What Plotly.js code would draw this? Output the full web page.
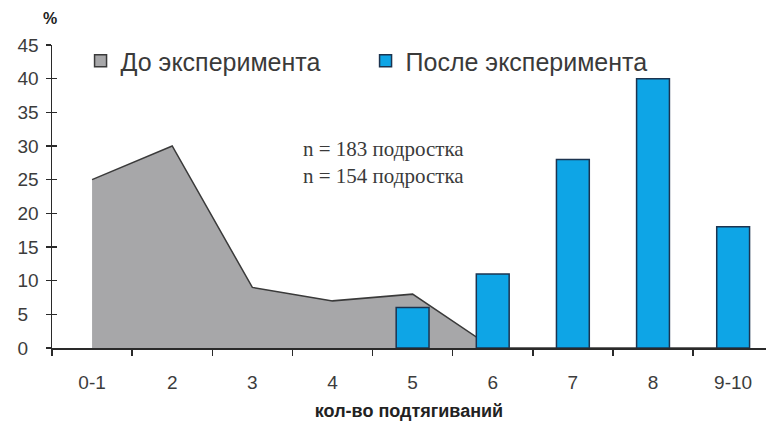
<!DOCTYPE html>
<html><head><meta charset="utf-8">
<script src="https://cdn.plot.ly/plotly-3.0.1.min.js"></script>
<style>html,body{margin:0;padding:0;background:#fff}#chart{width:766px;height:428px}</style>
</head><body><div id="chart"></div>
<script>
const categories = ['0-1', '2', '3', '4', '5', '6', '7', '8', '9-10'];
const beforeValues = [25, 30, 9, 7, 8, 0, 0, 0, 0];
const afterValues = [null, null, null, null, 6, 11, 28, 40, 18];
const yTickValues = [0, 5, 10, 15, 20, 25, 30, 35, 40, 45];
const seriesNames = ['До эксперимента', 'После эксперимента'];
const sampleNotes = ['n = 183 подростка', 'n = 154 подростка'];
const xAxisTitle = 'кол-во подтягиваний';
const yAxisUnit = '%';

const NB = '\u00a0';
const yTickLabels = yTickValues.map(v => String(v).length < 2 ? v + NB + NB : String(v));
const boundaryTicks = categories.map((c, i) => i - 0.5);
const legendPlaceholder = categories.map(() => null);

const grayFill = '#a7a7a9';
const grayLine = '#3a3a3a';
const blueFill = '#0ea5e6';
const blueLine = '#1c3450';
const textCol = '#3c3c3c';
const sans = 'Liberation Sans, Arial, sans-serif';
const xRange = [-0.5, 8.41];
const yRange = [0, 45];

const traces = [
  {type: 'scatter', mode: 'lines', x: categories, y: beforeValues, xaxis: 'x', yaxis: 'y',
   fill: 'tozeroy', fillcolor: grayFill, line: {color: grayLine, width: 1.5},
   showlegend: false, hoverinfo: 'skip'},
  {type: 'bar', x: categories, y: legendPlaceholder, name: seriesNames[0], xaxis: 'x', yaxis: 'y2',
   showlegend: true, width: 0.41,
   marker: {color: grayFill, line: {color: grayLine, width: 1.5}}},
  {type: 'bar', x: categories, y: afterValues, name: seriesNames[1], xaxis: 'x', yaxis: 'y2',
   width: 0.41, marker: {color: blueFill, line: {color: blueLine, width: 1.5}}}
];

const layout = {
  width: 766, height: 428,
  margin: {l: 52, r: 0, t: 45, b: 80, pad: 0},
  paper_bgcolor: '#fff', plot_bgcolor: '#fff',
  barmode: 'overlay',
  font: {family: sans, color: textCol, size: 18},
  showlegend: true,
  legend: {orientation: 'h', x: 0.04, xanchor: 'left', y: 0.947, yanchor: 'middle',
           font: {family: sans, size: 25, color: '#3a3a3a'}, bgcolor: 'rgba(0,0,0,0)',
           entrywidth: 240, entrywidthmode: 'pixels', traceorder: 'normal'},
  xaxis: {type: 'category', categoryarray: categories, categoryorder: 'array', range: xRange,
          showline: true, linecolor: '#2a2a2a', linewidth: 1.5, ticks: 'outside', tickson: 'boundaries',
          ticklen: 6, tickwidth: 1.5, tickcolor: '#2a2a2a', showgrid: false, zeroline: false,
          tickfont: {family: sans, size: 19, color: textCol}, ticklabelstandoff: 17,
          title: {text: xAxisTitle, font: {family: sans, size: 18, color: '#222', weight: 'bold'}, standoff: 12}},
  xaxis2: {overlaying: 'x', anchor: 'y', side: 'bottom', type: 'linear', range: xRange,
           tickmode: 'array', tickvals: boundaryTicks, ticks: 'inside', ticklen: 6, tickwidth: 1.5,
           tickcolor: '#2a2a2a', showticklabels: false, showline: false, showgrid: false, zeroline: false},
  xaxis3: {overlaying: 'x', anchor: 'y', side: 'top', type: 'linear', range: xRange,
           showline: true, linecolor: '#a8a8a8', linewidth: 1.5, ticks: '', showticklabels: false,
           showgrid: false, zeroline: false},
  yaxis: {range: yRange, tickmode: 'array', tickvals: yTickValues, ticktext: yTickLabels,
          showline: true, linecolor: '#2a2a2a', linewidth: 1.5, ticks: 'outside', ticklen: 5,
          tickwidth: 1.5, tickcolor: '#2a2a2a', showgrid: false, zeroline: false,
          tickfont: {family: sans, size: 19, color: textCol}, ticklabelstandoff: 3},
  yaxis2: {overlaying: 'y', anchor: 'x', side: 'left', range: yRange, tickmode: 'array',
           tickvals: yTickValues, ticks: 'inside', ticklen: 5, tickwidth: 1.5, tickcolor: '#2a2a2a',
           showticklabels: false, showline: false, showgrid: false, zeroline: false},
  annotations: [
    {text: sampleNotes.join('<br>'), xref: 'paper', yref: 'paper', x: 0.4636, y: 0.6106,
     xanchor: 'center', yanchor: 'middle', showarrow: false, align: 'left',
     font: {family: 'Liberation Serif, Times New Roman, serif', size: 21, color: '#3a3a3a'}},
    {text: yAxisUnit, xref: 'paper', yref: 'paper', x: -0.003, y: 1.089,
     xanchor: 'center', yanchor: 'middle', showarrow: false,
     font: {family: sans, size: 16, color: '#222', weight: 'bold'}}
  ]
};

Plotly.newPlot('chart', traces, layout, {displayModeBar: false, staticPlot: true});
</script></body></html>
